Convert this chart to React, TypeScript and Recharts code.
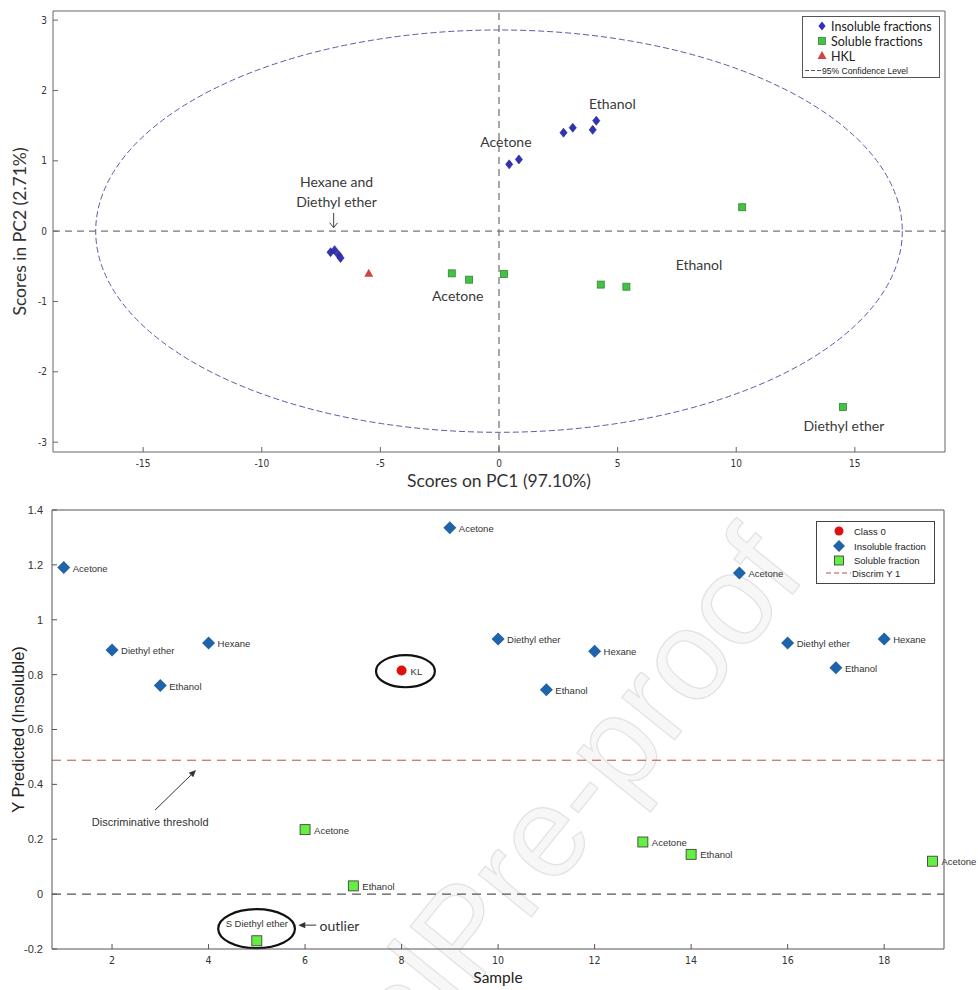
import React from "react";
import {
  Legend,
  ReferenceArea,
  ReferenceLine,
  Scatter,
  ScatterChart,
  XAxis,
  YAxis,
} from "recharts";

// ---- top panel: PCA scores ----
const pc1Ticks = [-15, -10, -5, 0, 5, 10, 15];
const pc2Ticks = [-3, -2, -1, 0, 1, 2, 3];
const insolPc1 = [-7.1, -6.93, -6.76, -6.68, 0.43, 0.84, 2.72, 3.11, 3.95, 4.1];
const insolPc2 = [-0.3, -0.27, -0.34, -0.38, 0.95, 1.02, 1.4, 1.47, 1.44, 1.57];
const solPc1 = [-1.99, -1.26, 0.21, 4.29, 5.37, 10.25, 14.5];
const solPc2 = [-0.6, -0.69, -0.61, -0.76, -0.79, 0.34, -2.5];
const hklPc1 = [-5.49];
const hklPc2 = [-0.6];
const confPc1 = 17.0;
const confPc2 = 2.86;
const pcaNoteText = ["Ethanol", "Acetone", "Hexane and", "Diethyl ether", "Acetone", "Ethanol", "Diethyl ether"];
const pcaNotePc1 = [4.78, 0.29, -6.85, -6.85, -1.74, 8.43, 14.54];
const pcaNotePc2 = [1.81, 1.27, 0.7, 0.42, -0.92, -0.47, -2.76];

// ---- bottom panel: PLS-DA prediction ----
const sampleTicks = [2, 4, 6, 8, 10, 12, 14, 16, 18];
const yPredTicks = [-0.2, 0, 0.2, 0.4, 0.6, 0.8, 1, 1.2, 1.4];
const insolSample = [1, 2, 3, 4, 9, 10, 11, 12, 15, 16, 17, 18];
const insolYPred = [1.19, 0.89, 0.76, 0.915, 1.335, 0.93, 0.745, 0.885, 1.17, 0.915, 0.825, 0.93];
const insolNames = ["Acetone", "Diethyl ether", "Ethanol", "Hexane", "Acetone", "Diethyl ether", "Ethanol", "Hexane", "Acetone", "Diethyl ether", "Ethanol", "Hexane"];
const solSample = [5, 6, 7, 13, 14, 19];
const solYPred = [-0.17, 0.235, 0.03, 0.19, 0.145, 0.12];
const solNames = ["S Diethyl ether", "Acetone", "Ethanol", "Acetone", "Ethanol", "Acetone"];
const class0Sample = [8];
const class0YPred = [0.815];
const class0Names = ["KL"];
const discrimY = 0.488;

const CAL = "Lato, 'Open Sans', sans-serif";
const ARIAL = "'Liberation Sans', Arial, sans-serif";
const NARROW = "'Liberation Sans Narrow', 'Arial Narrow', 'DejaVu Sans Condensed', sans-serif";

const insolPts = insolPc1.map((x, i) => ({ x, y: insolPc2[i] }));
const solPts = solPc1.map((x, i) => ({ x, y: solPc2[i] }));
const hklPts = hklPc1.map((x, i) => ({ x, y: hklPc2[i] }));
const pcaNotes = pcaNoteText.map((text, i) => ({ x: pcaNotePc1[i], y: pcaNotePc2[i], text }));

const insolPred = insolSample.map((x, i) => ({ x, y: insolYPred[i], name: insolNames[i] }));
const solPred = solSample.map((x, i) => ({ x, y: solYPred[i], name: solNames[i] }));
const class0Pred = class0Sample.map((x, i) => ({ x, y: class0YPred[i], name: class0Names[i] }));

const smallDiamond = (p: any) => (
  <polygon
    points={`${p.cx},${p.cy - 4.5} ${p.cx + 3.6},${p.cy} ${p.cx},${p.cy + 4.5} ${p.cx - 3.6},${p.cy}`}
    fill="#3232b4"
    stroke="#22228c"
    strokeWidth={0.6}
  />
);
const smallSquare = (p: any) => (
  <rect x={p.cx - 3.5} y={p.cy - 3.5} width={7} height={7} fill="#46c046" stroke="#2b8a2b" strokeWidth={0.8} />
);
const smallTriangle = (p: any) => (
  <polygon
    points={`${p.cx},${p.cy - 4.5} ${p.cx + 4.5},${p.cy + 3.5} ${p.cx - 4.5},${p.cy + 3.5}`}
    fill="#d04444"
  />
);
const noteText = (p: any) => (
  <text x={p.cx} y={p.cy} textAnchor="middle" dominantBaseline="central" fontFamily={CAL} fontSize={14} fill="#3a3a3a">
    {p.payload.text}
  </text>
);

const predLabel = (p: any) =>
  p.payload.y < 0 ? (
    <text x={p.cx} y={p.cy - 17} textAnchor="middle" dominantBaseline="central" fontFamily={ARIAL} fontSize={9.5} fill="#333">
      {p.payload.name}
    </text>
  ) : (
    <text x={p.cx + 9} y={p.cy + 0.5} dominantBaseline="central" fontFamily={ARIAL} fontSize={9.5} fill="#333">
      {p.payload.name}
    </text>
  );

const bigDiamond = (p: any) => (
  <g>
    <polygon
      points={`${p.cx},${p.cy - 6.5} ${p.cx + 6.5},${p.cy} ${p.cx},${p.cy + 6.5} ${p.cx - 6.5},${p.cy}`}
      fill="#1f63a8"
    />
    {predLabel(p)}
  </g>
);
const bigSquare = (p: any) => (
  <g>
    <rect x={p.cx - 5} y={p.cy - 5} width={10} height={10} fill="#66ee44" stroke="#333" strokeWidth={0.8} />
    {predLabel(p)}
  </g>
);
const redDot = (p: any) => (
  <g>
    <circle cx={p.cx} cy={p.cy} r={5} fill="#e01010" />
    {predLabel(p)}
  </g>
);

const ellipseShape = (stroke: string, width: number, dash?: string) => (p: any) => (
  <ellipse
    cx={p.x + p.width / 2}
    cy={p.y + p.height / 2}
    rx={Math.abs(p.width) / 2}
    ry={Math.abs(p.height) / 2}
    fill="none"
    stroke={stroke}
    strokeWidth={width}
    strokeDasharray={dash}
  />
);

const arrowShape = (p: any) => {
  const { x1, y1, x2, y2 } = p;
  const a = Math.atan2(y2 - y1, x2 - x1);
  const h = 7;
  const w = 3.2;
  const bx = x2 - h * Math.cos(a);
  const by = y2 - h * Math.sin(a);
  return (
    <g>
      <line x1={x1} y1={y1} x2={bx} y2={by} stroke="#333" strokeWidth={1} />
      <polygon
        points={`${x2},${y2} ${bx + w * Math.sin(a)},${by - w * Math.cos(a)} ${bx - w * Math.sin(a)},${by + w * Math.cos(a)}`}
        fill="#333"
      />
    </g>
  );
};

const downArrow = (p: any) => {
  const { x1, y1, x2, y2 } = p;
  return (
    <g fill="none" stroke="#444" strokeWidth={1}>
      <line x1={x1} y1={y1} x2={x2} y2={y2} />
      <polyline points={`${x2 - 4},${y2 - 5} ${x2},${y2} ${x2 + 4},${y2 - 5}`} />
    </g>
  );
};

function PcaLegend() {
  return (
    <svg width={138} height={62} style={{ display: "block" }}>
      <rect x={0.5} y={0.5} width={137} height={61} fill="#fff" stroke="#555" />
      <polygon points="20,5.5 23.6,10 20,14.5 16.4,10" fill="#3232b4" />
      <text x={29} y={10} dominantBaseline="central" fontFamily={CAL} fontSize={12.5} fill="#222">Insoluble fractions</text>
      <rect x={16.5} y={21.5} width={7} height={7} fill="#46c046" stroke="#2b8a2b" strokeWidth={0.8} />
      <text x={29} y={25} dominantBaseline="central" fontFamily={CAL} fontSize={12.5} fill="#222">Soluble fractions</text>
      <polygon points="20,35 24.5,43 15.5,43" fill="#d04444" />
      <text x={29} y={40} dominantBaseline="central" fontFamily={CAL} fontSize={12.5} fill="#222">HKL</text>
      <line x1={3} y1={54.5} x2={19} y2={54.5} stroke="#555" strokeDasharray="4 2" />
      <text x={20} y={54.5} dominantBaseline="central" fontFamily={ARIAL} fontSize={8.6} fill="#222">95% Confidence Level</text>
    </svg>
  );
}

function PredLegend() {
  return (
    <svg width={119} height={63} style={{ display: "block" }}>
      <rect x={0.5} y={0.5} width={118} height={62} fill="#fff" stroke="#444" />
      <circle cx={23} cy={10} r={4.5} fill="#e01010" />
      <text x={38} y={10} dominantBaseline="central" fontFamily={ARIAL} fontSize={9.5} fill="#222">Class 0</text>
      <polygon points="23,19 29,25 23,31 17,25" fill="#1f63a8" />
      <text x={38} y={25} dominantBaseline="central" fontFamily={ARIAL} fontSize={9.5} fill="#222">Insoluble fraction</text>
      <rect x={18.5} y={35} width={9} height={9} fill="#66ee44" stroke="#333" strokeWidth={0.8} />
      <text x={38} y={39.5} dominantBaseline="central" fontFamily={ARIAL} fontSize={9.5} fill="#222">Soluble fraction</text>
      <line x1={10} y1={52} x2={35} y2={52} stroke="#b05050" strokeDasharray="5 3" />
      <text x={36} y={52} dominantBaseline="central" fontFamily={ARIAL} fontSize={9.5} fill="#222">Discrim Y 1</text>
    </svg>
  );
}

function PcaChart() {
  const tick = { fontSize: 10, fill: "#333", fontFamily: NARROW };
  return (
    <ScatterChart width={978} height={500} margin={{ top: 6, right: 28, bottom: 23, left: 13 }}>
      <XAxis
        xAxisId="b"
        type="number"
        dataKey="x"
        domain={[-18.8, 18.8]}
        ticks={pc1Ticks}
        height={25}
        tickSize={-5}
        tickMargin={13}
        stroke="#666"
        tick={tick}
        label={{ value: "Scores on PC1 (97.10%)", position: "bottom", offset: -2, fontFamily: CAL, fontSize: 17.5, fill: "#333" }}
      />
      <XAxis xAxisId="t" orientation="top" type="number" dataKey="x" domain={[-18.8, 18.8]} ticks={pc1Ticks} height={5} tickSize={-5} tick={false} stroke="#666" />
      <YAxis
        yAxisId="l"
        type="number"
        dataKey="y"
        domain={[-3.14, 3.13]}
        ticks={pc2Ticks}
        allowDataOverflow
        width={40}
        tickSize={-5}
        tickMargin={11}
        stroke="#666"
        tick={tick}
        label={{ value: "Scores in PC2 (2.71%)", angle: -90, position: "insideLeft", offset: 7, style: { textAnchor: "middle" }, fontFamily: CAL, fontSize: 17.5, fill: "#333" }}
      />
      <YAxis yAxisId="r" orientation="right" type="number" dataKey="y" domain={[-3.14, 3.13]} ticks={pc2Ticks} allowDataOverflow width={5} tickSize={-5} tick={false} stroke="#666" />
      <ReferenceLine xAxisId="b" yAxisId="l" x={0} stroke="#777" strokeDasharray="7 5" strokeWidth={1.3} />
      <ReferenceLine xAxisId="b" yAxisId="l" y={0} stroke="#777" strokeDasharray="7 5" strokeWidth={1.3} />
      <ReferenceArea
        xAxisId="b"
        yAxisId="l"
        x1={-confPc1}
        x2={confPc1}
        y1={-confPc2}
        y2={confPc2}
        shape={ellipseShape("#5a5aa8", 1, "6 3")}
      />
      <ReferenceLine
        xAxisId="b"
        yAxisId="l"
        segment={[{ x: -6.97, y: 0.26 }, { x: -6.97, y: 0.05 }]}
        shape={downArrow}
      />
      <Scatter xAxisId="b" yAxisId="l" data={pcaNotes} shape={noteText} isAnimationActive={false} legendType="none" />
      <Scatter xAxisId="b" yAxisId="l" name="Insoluble fractions" data={insolPts} shape={smallDiamond} isAnimationActive={false} />
      <Scatter xAxisId="b" yAxisId="l" name="Soluble fractions" data={solPts} shape={smallSquare} isAnimationActive={false} />
      <Scatter xAxisId="b" yAxisId="l" name="HKL" data={hklPts} shape={smallTriangle} isAnimationActive={false} />
      <Legend
        layout="horizontal"
        verticalAlign="middle"
        align="center"
        content={() => <PcaLegend />}
        wrapperStyle={{ left: 802, top: 16, width: 138, height: 62 }}
      />
    </ScatterChart>
  );
}

function PredChart() {
  return (
    <ScatterChart width={978} height={490} margin={{ top: 5, right: 29, bottom: 16, left: 12 }}>
      <XAxis
        xAxisId="b"
        type="number"
        dataKey="x"
        domain={[0.756, 19.24]}
        ticks={sampleTicks}
        height={25}
        tickSize={-5}
        tickMargin={13}
        stroke="#555"
        tick={{ fontSize: 10.5, fill: "#333", fontFamily: NARROW }}
        label={{ value: "Sample", position: "bottom", offset: -2, fontFamily: CAL, fontSize: 15.5, fill: "#222" }}
      />
      <XAxis xAxisId="t" orientation="top" type="number" dataKey="x" domain={[0.756, 19.24]} ticks={sampleTicks} height={5} tickSize={-5} tick={false} stroke="#555" />
      <YAxis
        yAxisId="l"
        type="number"
        dataKey="y"
        domain={[-0.2, 1.4]}
        ticks={yPredTicks}
        width={40}
        tickSize={-5}
        tickMargin={14}
        stroke="#555"
        tick={{ fontSize: 11, fill: "#333", fontFamily: ARIAL }}
        label={{ value: "Y Predicted (Insoluble)", angle: -90, position: "insideLeft", offset: 6, style: { textAnchor: "middle" }, fontFamily: ARIAL, fontSize: 16.5, fill: "#222" }}
      />
      <YAxis yAxisId="r" orientation="right" type="number" dataKey="y" domain={[-0.2, 1.4]} ticks={yPredTicks} width={5} tickSize={-5} tick={false} stroke="#555" />
      <ReferenceLine xAxisId="b" yAxisId="l" y={0} stroke="#555" strokeDasharray="9 6" strokeWidth={1.2} />
      <ReferenceLine xAxisId="b" yAxisId="l" y={discrimY} stroke="#b05050" strokeDasharray="9 6" strokeWidth={1} />
      <ReferenceArea xAxisId="b" yAxisId="l" x1={7.47} x2={8.69} y1={0.754} y2={0.871} shape={ellipseShape("#111", 2.2)} />
      <ReferenceArea xAxisId="b" yAxisId="l" x1={4.2} x2={5.79} y1={-0.197} y2={-0.055} ifOverflow="visible" shape={ellipseShape("#111", 2.2)} />
      <ReferenceLine xAxisId="b" yAxisId="l" segment={[{ x: 2.89, y: 0.306 }, { x: 3.74, y: 0.452 }]} shape={arrowShape} />
      <ReferenceLine xAxisId="b" yAxisId="l" segment={[{ x: 6.23, y: -0.113 }, { x: 5.86, y: -0.113 }]} shape={arrowShape} />
      <ReferenceLine
        xAxisId="b"
        yAxisId="l"
        segment={[{ x: 2.79, y: 0.262 }, { x: 2.79, y: 0.262 }]}
        shape={(p: any) => (
          <text x={p.x1} y={p.y1} textAnchor="middle" dominantBaseline="central" fontFamily={ARIAL} fontSize={11} fill="#333">
            Discriminative threshold
          </text>
        )}
      />
      <ReferenceLine
        xAxisId="b"
        yAxisId="l"
        segment={[{ x: 6.3, y: -0.113 }, { x: 6.3, y: -0.113 }]}
        shape={(p: any) => (
          <text x={p.x1} y={p.y1} dominantBaseline="central" fontFamily={CAL} fontSize={14} fill="#333">
            outlier
          </text>
        )}
      />
      <Scatter xAxisId="b" yAxisId="l" name="Class 0" data={class0Pred} shape={redDot} isAnimationActive={false} />
      <Scatter xAxisId="b" yAxisId="l" name="Insoluble fraction" data={insolPred} shape={bigDiamond} isAnimationActive={false} />
      <Scatter xAxisId="b" yAxisId="l" name="Soluble fraction" data={solPred} shape={bigSquare} isAnimationActive={false} />
      <Legend
        layout="horizontal"
        verticalAlign="middle"
        align="center"
        content={() => <PredLegend />}
        wrapperStyle={{ left: 816, top: 21, width: 119, height: 63 }}
      />
    </ScatterChart>
  );
}

export default function App() {
  return (
    <div style={{ position: "relative", width: 978, height: 990, background: "#fff", overflow: "hidden" }}>
      <style>{`body{margin:0}`}</style>
      {/* faint watermark sits behind both panels */}
      <svg width={978} height={990} style={{ position: "absolute", left: 0, top: 0, pointerEvents: "none" }}>
        <g transform="rotate(-51 472 990)" fontFamily={ARIAL} fontSize={128} fill="#f7f7f7" stroke="#e2e2e2" strokeWidth={1.2}>
          <text x={472} y={990} textAnchor="end">Journal </text>
          <text x={472} y={990}>Pre-proof</text>
        </g>
      </svg>
      <div style={{ position: "absolute", left: 0, top: 0 }}>
        <PcaChart />
      </div>
      <div style={{ position: "absolute", left: 0, top: 500 }}>
        <PredChart />
      </div>
    </div>
  );
}
